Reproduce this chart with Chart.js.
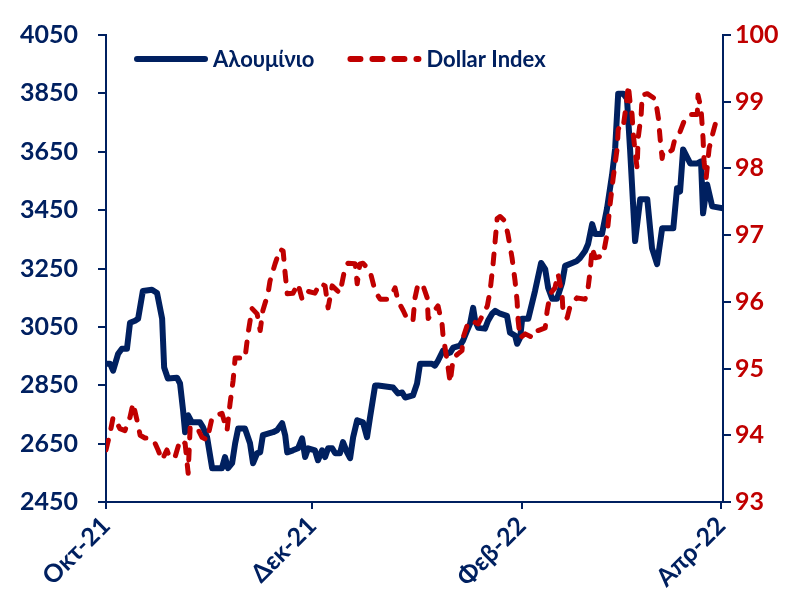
<!DOCTYPE html>
<html>
<head>
<meta charset="utf-8">
<script src="https://cdn.jsdelivr.net/npm/chart.js@4.4.1/dist/chart.umd.min.js"></script>
<style>
html,body{margin:0;padding:0;background:#fff;}
canvas{display:block;}
</style>
</head>
<body>
<canvas id="c" width="798" height="596"></canvas>
<script>
// x positions are days since 1 Oct 2021
const tickDays = [0, 61, 123, 182];
const tickLabels = ['Οκτ-21', 'Δεκ-21', 'Φεβ-22', 'Απρ-22'];
const seriesNames = ['Αλουμίνιο', 'Dollar Index'];

const aluDays = [0,1.2,2.1,3.6,4.7,6.2,7.1,8.6,9.5,10.9,13.6,15.1,16.6,17.2,18.3,21.0,21.9,22.8,23.4,24.3,25.4,27.8,28.7,29.9,31.4,34.3,35.2,36.1,37.3,38.2,39.1,41.1,42.6,43.5,44.7,45.6,46.4,49.4,50.6,52.1,53.0,53.6,55.3,56.8,58.0,58.9,59.8,61.8,62.7,63.9,64.8,65.7,66.9,67.8,69.2,70.1,71.3,72.2,73.1,74.3,76.0,77.2,78.1,79.6,80.5,84.9,86.4,87.6,88.5,90.8,92.0,92.9,93.8,96.4,97.3,98.2,99.7,100.9,101.8,102.7,104.7,105.6,106.8,107.7,108.6,109.2,110.1,112.1,113.0,114.2,115.1,116.6,118.6,119.5,121.0,121.6,122.5,123.1,124.9,126.9,128.7,129.9,130.8,132.0,133.4,134.9,135.8,137.9,139.3,140.2,141.7,142.6,143.8,144.7,146.7,148.2,149.7,150.6,151.5,153.0,154.1,155.0,156.5,158.0,160.1,161.5,163.0,164.5,167.8,168.9,169.8,170.7,172.8,174.9,176.0,176.6,177.8,179.3,182.5];
const aluValues = [2924,2924,2900,2958,2975,2975,3064,3071,3078,3173,3177,3166,3078,2911,2873,2876,2856,2764,2689,2747,2723,2723,2706,2672,2566,2566,2604,2566,2583,2651,2702,2702,2651,2583,2617,2620,2679,2689,2696,2720,2679,2620,2627,2634,2668,2604,2634,2627,2593,2627,2604,2634,2634,2617,2617,2655,2620,2600,2672,2730,2723,2672,2740,2849,2849,2842,2822,2825,2808,2815,2856,2924,2924,2924,2917,2934,2969,2958,2962,2979,2986,3003,3037,3061,3115,3071,3047,3044,3071,3095,3105,3095,3088,3030,3020,2992,3013,3078,3078,3173,3269,3248,3183,3146,3146,3200,3259,3269,3276,3286,3310,3334,3402,3368,3368,3456,3572,3661,3849,3849,3832,3661,3344,3487,3487,3320,3265,3388,3388,3525,3514,3658,3610,3610,3617,3439,3538,3463,3456];

const dxyDays = [0,1.2,2.1,3.3,4.1,5.6,7.1,8.0,9.2,10.1,11.5,13.0,14.5,15.4,16.6,18.0,18.9,20.4,21.9,23.4,24.3,24.9,26.9,28.4,29.9,31.4,32.8,34.3,35.8,36.7,37.6,38.2,39.6,41.1,42.0,43.2,44.7,45.6,46.4,47.9,48.5,50.0,51.5,52.4,53.0,53.6,55.3,56.8,58.0,59.5,61.8,63.3,64.8,65.7,66.9,69.2,70.7,71.6,73.7,74.3,75.1,76.0,78.1,79.6,81.1,83.1,84.6,85.5,86.4,87.9,89.3,90.8,91.4,92.3,93.8,95.0,95.3,98.2,99.4,99.7,100.3,101.2,101.8,102.7,104.1,105.3,105.6,107.1,108.3,109.2,110.1,111.6,112.8,113.6,114.5,115.1,115.7,116.6,118.0,118.9,120.1,121.0,121.6,121.9,122.5,124.0,126.4,127.8,129.9,130.5,131.4,132.8,133.7,134.9,135.2,136.4,137.3,139.3,141.7,142.6,143.2,143.8,144.7,147.0,148.2,149.1,150.0,151.2,151.5,152.1,153.0,153.9,154.5,155.0,155.6,155.9,156.5,157.1,157.4,158.3,158.6,160.1,162.5,163.4,163.9,164.5,164.8,166.0,167.5,168.3,169.8,171.3,172.8,174.9,175.1,176.0,176.6,176.9,177.5,178.4,179.6,180.2];
const dxyValues = [93.78,94.03,94.27,94.18,94.10,94.07,94.27,94.48,94.22,94.00,93.96,93.96,93.88,93.78,93.63,93.78,93.66,93.67,93.93,93.88,93.43,94.12,94.12,93.97,93.93,94.27,94.30,94.33,94.07,94.48,94.82,95.16,95.16,95.15,95.52,95.90,95.82,95.57,95.87,96.12,96.31,96.57,96.79,96.76,96.42,96.12,96.13,96.27,96.04,96.16,96.13,96.28,96.24,95.91,96.24,96.13,96.51,96.58,96.57,96.27,96.57,96.58,96.46,96.16,96.04,96.04,96.12,96.21,96.01,95.87,95.72,95.72,96.06,96.27,96.24,96.06,95.75,95.94,95.67,95.49,95.31,95.01,94.79,95.16,95.22,95.27,95.46,95.69,95.72,95.69,95.67,95.82,95.94,96.16,96.57,96.91,97.25,97.28,97.21,97.01,96.66,96.31,96.01,95.72,95.46,95.52,95.46,95.57,95.61,95.87,96.12,96.21,96.42,96.12,95.82,95.76,95.94,96.06,96.04,96.21,96.46,96.81,96.66,96.69,97.01,97.46,97.85,98.30,98.58,98.66,98.63,98.96,99.25,99.00,98.81,98.55,98.25,98.00,98.45,98.81,99.10,99.12,99.04,98.75,98.45,98.15,98.25,98.22,98.28,98.45,98.55,98.75,98.81,98.81,99.10,98.90,98.45,98.10,97.85,98.30,98.55,98.66];

const NAVY = '#002060';
const RED = '#C00000';
const FONT = 'Lato, "Open Sans", sans-serif';

function pts(xs, ys) { return xs.map((x, i) => ({ x: x, y: ys[i] })); }

const legendPlugin = {
  id: 'innerLegend',
  afterDraw(chart) {
    const ctx = chart.ctx;
    const a = chart.chartArea;
    const y = a.top + 24;
    let x = a.left + 31;
    ctx.save();
    ctx.font = 'bold 22px ' + FONT;
    ctx.textBaseline = 'middle';
    chart.data.datasets.forEach((ds, i) => {
      ctx.beginPath();
      ctx.lineWidth = 6;
      ctx.lineCap = 'round';
      ctx.strokeStyle = ds.borderColor;
      ctx.setLineDash(ds.borderDash || []);
      ctx.moveTo(x, y);
      ctx.lineTo(x + 68, y);
      ctx.stroke();
      ctx.setLineDash([]);
      ctx.fillStyle = NAVY;
      ctx.textAlign = 'left';
      ctx.fillText(ds.label, x + 76, y + 1);
      x += 76 + ctx.measureText(ds.label).width + 36;
    });
    ctx.restore();
  }
};

new Chart(document.getElementById('c'), {
  type: 'line',
  data: {
    datasets: [
      {
        label: seriesNames[0],
        data: pts(aluDays, aluValues),
        yAxisID: 'y',
        borderColor: NAVY,
        borderWidth: 6,
        borderJoinStyle: 'round',
        borderCapStyle: 'round',
        pointRadius: 0,
        tension: 0,
        order: 2
      },
      {
        label: seriesNames[1],
        data: pts(dxyDays, dxyValues),
        yAxisID: 'y1',
        borderColor: RED,
        borderWidth: 5,
        borderDash: [10, 12],
        borderCapStyle: 'round',
        borderJoinStyle: 'round',
        pointRadius: 0,
        tension: 0,
        order: 1
      }
    ]
  },
  options: {
    responsive: false,
    animation: false,
    events: [],
    layout: { padding: { top: 33, left: 0, right: 0, bottom: 0 } },
    plugins: { legend: { display: false }, tooltip: { enabled: false } },
    scales: {
      x: {
        type: 'linear',
        min: 0,
        max: 182.5,
        afterBuildTicks(s) { s.ticks = tickDays.map(v => ({ value: v })); },
        afterFit(s) { s.height = 94; },
        grid: { drawOnChartArea: false, color: NAVY, tickLength: 7, lineWidth: 2 },
        border: { color: NAVY, width: 2 },
        ticks: {
          autoSkip: false,
          minRotation: 45,
          maxRotation: 45,
          padding: 2,
          color: NAVY,
          font: { family: FONT, size: 25, weight: 'bold' },
          callback(v) { const i = tickDays.indexOf(v); return i >= 0 ? tickLabels[i] : ''; }
        }
      },
      y: {
        position: 'left',
        min: 2450,
        max: 4050,
        afterFit(s) { s.width = 106; },
        grid: { drawOnChartArea: false, color: NAVY, tickLength: 8, lineWidth: 2 },
        border: { color: NAVY, width: 2 },
        ticks: {
          stepSize: 200,
          padding: 20,
          color: NAVY,
          font: { family: FONT, size: 25, weight: 'bold' },
          callback(v) { return String(v); }
        }
      },
      y1: {
        position: 'right',
        min: 93,
        max: 100,
        afterFit(s) { s.width = 75; },
        grid: { drawOnChartArea: false, color: NAVY, tickLength: 8, lineWidth: 2 },
        border: { color: NAVY, width: 2 },
        ticks: {
          stepSize: 1,
          padding: 4,
          color: RED,
          font: { family: FONT, size: 25, weight: 'bold' },
          callback(v) { return String(v); }
        }
      }
    }
  },
  plugins: [legendPlugin]
});
</script>
</body>
</html>
